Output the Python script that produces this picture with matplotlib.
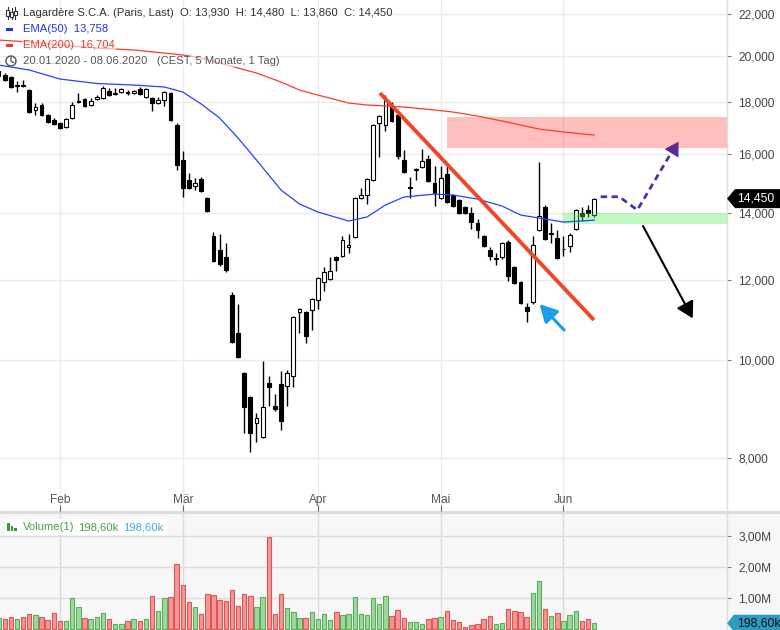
import numpy as np
import pandas as pd
import matplotlib
matplotlib.use("Agg")
import matplotlib.pyplot as plt
from matplotlib import transforms as mtransforms
from matplotlib.patches import Polygon, Rectangle, Circle
from matplotlib.lines import Line2D
from matplotlib.ticker import FixedLocator, FuncFormatter, NullLocator

plt.rcParams['font.family'] = ['Liberation Sans', 'DejaVu Sans']

# Paris trading days, 20.01.2020 - 08.06.2020 (Good Friday, Easter Monday, 1 May closed)
days = pd.bdate_range('2020-01-20', '2020-06-08')
days = days.drop(pd.to_datetime(['2020-04-10', '2020-04-13', '2020-05-01']))

opens = [19110, 19150, 19065, 18680, 18720, 18508, 17684, 17887, 17484, 17285,
         17167, 17012, 17364, 18000, 18132, 17887, 18132, 18174, 18466, 18360,
         18424, 18424, 18382, 18550, 18215, 18174, 17968, 18091, 18382, 17090,
         15778, 15075, 14871, 15110, 14470, 13270, 12853, 12650, 11600, 10637,
         9710, 9184, 8663, 8392, 9491, 9007, 9469, 9426, 9643, 11160,
         11160, 11210, 11468, 11948, 12030, 12650, 12679, 12941, 13240, 14470,
         14568, 15075, 17167, 17090, 17805, 17484, 15778, 14810, 15440, 15527,
         15814, 14973, 14470, 15283, 14568, 14404, 14176, 13983, 13669, 13270,
         12853, 12590, 12650, 13090, 12364, 11948, 11287, 11416, 13452, 14176,
         13330, 13210, 12870, 12970, 13482, 13983, 14079, 13930]
highs = [19460, 19240, 19108, 18893, 18936, 18550, 17968, 17968, 17524, 17364,
         17206, 17364, 18009, 18382, 18174, 18174, 18298, 18678, 18593, 18593,
         18593, 18508, 18508, 18636, 18593, 18215, 18215, 18466, 18424, 17167,
         16105, 15317, 15144, 15178, 14503, 13391, 13330, 13060, 11680, 11364,
         9732, 9205, 8864, 9979, 9643, 9257, 9755, 9777, 11057, 11261,
         11185, 11520, 12085, 12364, 12650, 12679, 13270, 13330, 14503, 14803,
         15144, 17127, 17484, 18298, 18009, 17524, 16142, 15178, 15500, 16179,
         15960, 15562, 15562, 15562, 14601, 14437, 14208, 14176, 13794, 13300,
         12941, 12765, 13090, 13149, 12393, 11975, 11390, 13270, 15707, 14241,
         13669, 13452, 13270, 13360, 14111, 14176, 14241, 14480]
lows = [19070, 18893, 18593, 18424, 18636, 17564, 17484, 17444, 17167, 17090,
        16934, 16973, 17325, 17960, 17805, 17846, 18091, 18132, 18257, 18298,
        18382, 18298, 18340, 18298, 18174, 17644, 17928, 17846, 17246, 15422,
        14503, 14770, 14736, 14669, 14015, 12506, 12393, 12224, 10398, 10047,
        8469, 8110, 8297, 8373, 9007, 8905, 8527, 9007, 9405, 10637,
        10398, 10710, 11236, 11706, 12003, 12252, 12650, 12765, 13210, 14437,
        14274, 15041, 15888, 16858, 17206, 15814, 15317, 14470, 15075, 15492,
        15007, 14208, 14437, 14306, 14176, 13951, 13951, 13482, 13210, 12941,
        12563, 12421, 12592, 11975, 11894, 11364, 10907, 11364, 13422, 13149,
        13060, 12592, 12679, 12794, 13452, 13730, 13857, 13860]
closes = [19330, 18936, 18636, 18720, 18678, 17604, 17805, 17484, 17206, 17127,
          16973, 17325, 17887, 18040, 17846, 18050, 18215, 18593, 18298, 18380,
          18550, 18382, 18466, 18340, 18550, 17968, 18091, 18424, 17285, 15599,
          14803, 14803, 14973, 14702, 14047, 12534, 12449, 12280, 10421, 10070,
          8986, 8469, 8763, 8986, 9405, 8945, 8703, 9710, 11032, 11236,
          10564, 11494, 12058, 12224, 12252, 12563, 13149, 13000, 14470, 14568,
          15110, 17090, 17444, 18091, 17246, 15924, 15352, 14830, 15465, 15742,
          15041, 14637, 15144, 14339, 14208, 13983, 13983, 13699, 13452, 12970,
          12679, 12620, 13060, 12112, 11921, 11390, 11185, 13000, 13889, 13180,
          13355, 12620, 12890, 13300, 14079, 13889, 13983, 14450]
volumes = [367000, 335000, 399000, 335000, 399000, 494000, 462000, 399000, 304000, 525000,
           272000, 272000, 1000000, 715000, 367000, 335000, 399000, 525000, 335000, 177000,
           177000, 272000, 335000, 272000, 335000, 1063000, 589000, 1000000, 1032000, 2076000,
           1411000, 873000, 715000, 494000, 1127000, 1095000, 937000, 905000, 1253000, 747000,
           1127000, 1063000, 715000, 1032000, 2962000, 494000, 1127000, 684000, 557000, 367000,
           367000, 557000, 335000, 494000, 304000, 557000, 462000, 494000, 1032000, 494000,
           462000, 1000000, 810000, 1063000, 430000, 620000, 367000, 240000, 240000, 177000,
           335000, 367000, 399000, 589000, 304000, 240000, 82000, 146000, 177000, 335000,
           430000, 177000, 209000, 652000, 589000, 557000, 399000, 1158000, 1538000, 652000,
           430000, 525000, 272000, 462000, 589000, 272000, 335000, 198600]

# moving averages, sampled on trading-day index
ema_days = [0, 5, 10, 16, 22, 27, 30, 33, 36, 39, 42, 46, 49, 52, 57, 60, 63, 66,
            71, 74, 78, 82, 85, 88, 92, 97]
ema50 = [19594, 19372, 18978, 18785, 18720, 18636, 18424, 17928, 17364, 16590,
         15778, 14736, 14274, 14016, 13731, 13857, 14241, 14502, 14601, 14568,
         14436, 14208, 13921, 13825, 13699, 13758]
ema200 = [20743, 20649, 20508, 20368, 20276, 20137, 20046, 19909, 19683, 19460,
          19240, 18849, 18508, 18298, 17968, 17887, 17846, 17805, 17684, 17603,
          17443, 17246, 17090, 16934, 16819, 16704]

price_levels = [8000, 10000, 12000, 14000, 16000, 18000, 20000, 22000]
volume_levels = [1000000, 2000000, 3000000]
month_names = {2: 'Feb', 3: 'Mär', 4: 'Apr', 5: 'Mai', 6: 'Jun'}

# ---------------------------------------------------------------- figure
W, H = 780, 630
fig = plt.figure(figsize=(W / 100, H / 100), dpi=100)
fig.patch.set_facecolor('white')


def fx(px):
    return px / W


def fy(py_from_top):
    return 1 - py_from_top / H


# panel backgrounds and separator (drawn beneath the axes)
fig.patches.append(Rectangle((0, 0), 1, 116 / H, transform=fig.transFigure,
                             fc='#f7f7f7', ec='none', zorder=-5))
fig.patches.append(Rectangle((0, fy(514)), 1, 3 / H, transform=fig.transFigure,
                             fc='#dcdcdc', ec='none', zorder=-5))

ax = fig.add_axes([0, fy(511), fx(727), 511 / H])
axv = fig.add_axes([0, 0, fx(727), 116 / H])
ax.set_facecolor('none')
axv.set_facecolor('none')

n = len(closes)
x = np.arange(n)
o = np.array(opens, float)
h = np.array(highs, float)
l = np.array(lows, float)
c = np.array(closes, float)
up = c >= o

xlim = (0.23, 118.63)
for a in (ax, axv):
    a.set_xlim(*xlim)
    for s in ('top', 'left', 'bottom'):
        a.spines[s].set_visible(False)
    a.spines['right'].set_color('#dddddd')
    a.spines['right'].set_linewidth(1)

# month ticks / grid
month_idx = []
month_lbl = []
for i in range(1, n):
    if days[i].month != days[i - 1].month:
        month_idx.append(i)
        month_lbl.append(month_names[days[i].month])

# ---------------------------------------------------------------- price panel
ax.set_yscale('log')
ax.set_ylim(7090, 22724)
ax.yaxis.tick_right()
ax.yaxis.set_major_locator(FixedLocator(price_levels))
ax.yaxis.set_minor_locator(NullLocator())
ax.yaxis.set_major_formatter(FuncFormatter(lambda v, p: f"{v:,.0f}"))
ax.tick_params(axis='y', which='major', length=3, width=0.8, color='#777',
               pad=5, labelsize=8.6, labelcolor='#444')
ax.set_xticks(month_idx)
ax.tick_params(axis='x', direction='in', length=4, width=0.8, color='#666',
               labelbottom=False)
ax.grid(True, color='#ebebeb', lw=1)
ax.set_axisbelow(True)

tx = mtransforms.blended_transform_factory(ax.transData, ax.transAxes)
for i, name in zip(month_idx, month_lbl):
    ax.text(i, 11 / 511, name, transform=tx, ha='center', va='center',
            fontsize=8.6, color='#555')

# zones
ax.add_patch(Rectangle((73.0, 16216), xlim[1] - 73.0 + 1, 17404 - 16216,
                       fc=(1, 0, 0), alpha=0.25, lw=0, zorder=1))

# candles
ax.vlines(x, l, h, color='black', lw=1, zorder=3)
lo_b = np.minimum(o, c)
hi_b = np.maximum(o, c)
ax.bar(x, hi_b - lo_b, bottom=lo_b, width=0.62,
       color=np.where(up, 'white', 'black'), edgecolor='black', lw=0.8, zorder=4)

ax.add_patch(Rectangle((91.9, 13636), xlim[1] - 91.9 + 1, 13982 - 13636,
                       fc=(80 / 255, 240 / 255, 80 / 255), alpha=0.35, lw=0, zorder=5))

# moving averages
ax.plot(ema_days, ema200, color='#ff3a2a', lw=0.9, zorder=6)
ax.plot(ema_days, ema50, color='#2244ff', lw=0.9, zorder=6)

# trend line and scenario arrows
ax.plot([62.1, 96.97], [18382, 10957], color='#f2462a', lw=2.8,
        solid_capstyle='butt', zorder=7)
ax.annotate('', xy=(88.1, 11364), xytext=(92.1, 10710),
            arrowprops=dict(arrowstyle='-|>,head_length=0.75,head_width=0.4',
                            mutation_scale=14, color='#1a9fe6', lw=2.2,
                            shrinkA=0, shrinkB=0), zorder=7)
ax.annotate('', xy=(113.05, 10998), xytext=(104.95, 13577),
            arrowprops=dict(arrowstyle='-|>,head_length=0.7,head_width=0.4',
                            mutation_scale=14, color='black', lw=1.5,
                            shrinkA=0, shrinkB=0), zorder=7)
path_x = [98.06, 101.09, 104.02, 110.3]
path_y = [14512, 14512, 14079, 16330]
ax.plot(path_x, path_y, color='#3b3ba8', lw=2.0, dashes=(2.3, 1.6), zorder=7)
ax.annotate('', xy=(110.75, 16452), xytext=(109.2, 15880),
            arrowprops=dict(arrowstyle='-|>,head_length=0.7,head_width=0.42',
                            mutation_scale=14, color='#5b2c8f', lw=0,
                            shrinkA=0, shrinkB=0), zorder=8)

# ---------------------------------------------------------------- volume panel
axv.set_ylim(-0.019e6, 3.69e6)
axv.yaxis.tick_right()
axv.yaxis.set_major_locator(FixedLocator(volume_levels))
axv.yaxis.set_major_formatter(
    FuncFormatter(lambda v, p: f"{v / 1e6:.2f}M".replace('.', ',')))
axv.tick_params(axis='y', length=3, width=0.8, color='#777', pad=5,
                labelsize=8.6, labelcolor='#444')
axv.set_xticks(month_idx)
axv.tick_params(axis='x', length=0, labelbottom=False)
axv.grid(True, color='#dddddd', lw=1)
axv.set_axisbelow(True)
axv.bar(x, volumes, width=0.72,
        color=np.where(up, '#9fd89f', '#f29696'),
        edgecolor=np.where(up, '#5aad5a', '#e05656'), lw=0.8, zorder=3)

# ---------------------------------------------------------------- value tags
ident = mtransforms.IdentityTransform()
fig.canvas.draw()
yc = ax.transData.transform((50, closes[-1]))[1]
fig.add_artist(Polygon([(727, yc), (735, yc + 9.5), (780, yc + 9.5),
                        (780, yc - 9.5), (735, yc - 9.5)], closed=True,
                       transform=ident, fc='black', ec='none', zorder=10))
fig.text(fx(756), yc / H, f"{closes[-1]:,}", color='white', fontsize=8.8,
         ha='center', va='center', zorder=11)
yv = axv.transData.transform((50, volumes[-1]))[1]
fig.add_artist(Polygon([(727, yv), (734, yv + 8.5), (780, yv + 8.5),
                        (780, yv - 8.5), (734, yv - 8.5)], closed=True,
                       transform=ident, fc='#2b9cc4', ec='none', zorder=10))
fig.text(fx(737), yv / H, f"{volumes[-1] / 1000:.2f}k".replace('.', ','),
         color='#111', fontsize=8.8, ha='left', va='center', zorder=11)

# ---------------------------------------------------------------- header texts
box = dict(fc='white', ec='none', alpha=0.6, pad=0.6)
fs = 8.1
fig.text(fx(23), fy(13.5),
         f"Lagardère S.C.A. (Paris, Last)  O: {opens[-1]:,}  H: {highs[-1]:,}  "
         f"L: {lows[-1]:,}  C: {closes[-1]:,}",
         fontsize=fs, color='#333', va='center', ha='left', bbox=box, zorder=12)
fig.text(fx(23), fy(29.5), f"EMA(50)  {ema50[-1]:,}", fontsize=fs,
         color='#2233ee', va='center', ha='left', bbox=box, zorder=12)
fig.text(fx(23), fy(45.5), f"EMA(200)  {ema200[-1]:,}", fontsize=fs,
         color='#ee3a2a', va='center', ha='left', bbox=box, zorder=12)
fig.text(fx(23), fy(61.5),
         f"{days[0]:%d.%m.%Y} - {days[-1]:%d.%m.%Y}   (CEST, 5 Monate, 1 Tag)",
         fontsize=fs, color='#555', va='center', ha='left', bbox=box, zorder=12)


def px_line(xs, ys, **kw):
    fig.add_artist(Line2D([fx(v) for v in xs], [fy(v) for v in ys],
                          transform=fig.transFigure, zorder=13, **kw))


# candle glyph
for cx, (t, b0, b1, bt) in zip([7.5, 11.5, 15.5],
                               [(7, 10, 16, 19), (8, 12, 17, 19), (7, 11, 15, 19)]):
    px_line([cx, cx], [t, bt], color='#333', lw=0.8)
    fig.add_artist(Rectangle((fx(cx - 1.3), fy(b1)), 2.6 / W, (b1 - b0) / H,
                             transform=fig.transFigure, fc='white', ec='#333',
                             lw=0.8, zorder=13))
# line swatches
fig.add_artist(Rectangle((fx(6), fy(31)), 7 / W, 3 / H, transform=fig.transFigure,
                         fc='#2233ee', ec='none', zorder=13))
fig.add_artist(Rectangle((fx(6), fy(47)), 7 / W, 3 / H, transform=fig.transFigure,
                         fc='#ee3a2a', ec='none', zorder=13))
# clock glyph
fig.add_artist(Circle((11, H - 61), 5, transform=ident, fill=False, ec='#555',
                      lw=1.0, zorder=13))
px_line([11, 11, 13.5], [57.5, 61, 62.5], color='#555', lw=0.9)

# volume header
fig.add_artist(Rectangle((fx(5), fy(535)), 163 / W, 16 / H, transform=fig.transFigure,
                         fc='white', ec='none', zorder=12))
for bx, bh in zip([7, 10.5, 14], [8, 5, 3]):
    fig.add_artist(Rectangle((fx(bx), fy(531)), 2.6 / W, bh / H,
                             transform=fig.transFigure, fc='#3a9a3a', ec='none',
                             zorder=13))
vtxt = f"{volumes[-1] / 1000:.2f}k".replace('.', ',')
fig.text(fx(23), fy(527), "Volume(1)", fontsize=fs, color='#4a9d4a',
         va='center', ha='left', zorder=13)
fig.text(fx(78), fy(527), vtxt, fontsize=fs, color='#4a9d4a',
         va='center', ha='left', zorder=13)
fig.text(fx(123), fy(527), vtxt, fontsize=fs, color='#3aaed8',
         va='center', ha='left', zorder=13)

fig.savefig('out.png', dpi=100)
